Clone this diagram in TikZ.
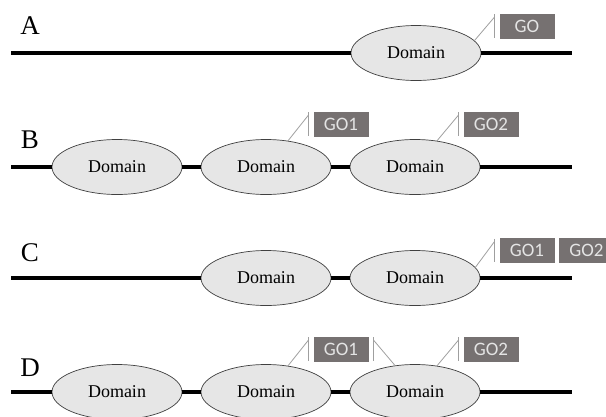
\documentclass[tikz,border=0pt]{standalone}
\usepackage{fontspec}
\setmainfont{Liberation Serif}
\newfontfamily\gofont{Carlito}
\usetikzlibrary{shapes.geometric}
\definecolor{goGray}{HTML}{767171}
\definecolor{goText}{HTML}{E4E4E4}
\definecolor{domFill}{HTML}{E6E6E6}

\tikzstyle{domainbox}=[ellipse, draw=black!75, line width=0.7pt, fill=domFill, minimum width=130pt, minimum height=55pt, inner sep=0pt, font=\fontsize{18}{18}\selectfont]
\tikzstyle{gobox}=[rectangle, fill=goGray, text=goText, minimum width=55pt, minimum height=25pt, inner sep=0pt, font=\gofont\fontsize{19}{19}\selectfont]
\tikzstyle{rowlabel}=[font=\fontsize{27}{27}\selectfont, inner sep=0pt]
\tikzstyle{chainline}=[line width=4.5pt]
\tikzstyle{leaderline}=[draw=gray!75, line width=0.8pt]

\begin{document}
\begin{tikzpicture}[x=1pt, y=-1pt]
    \useasboundingbox (0,0) rectangle (606,416);
    % row A
    \node[rowlabel] (la) at (30,26) {A};
    \node[domainbox] (a1) at (416,53) {Domain};
    \coordinate (as) at (11,53);
    \coordinate (ae) at (572,53);
    \node[gobox] (ga) at (527,26) {GO};
    % row B
    \node[rowlabel] (lb) at (30,140) {B};
    \node[domainbox] (b1) at (117,167) {Domain};
    \node[domainbox] (b2) at (266,167) {Domain};
    \node[domainbox] (b3) at (415,167) {Domain};
    \coordinate (bs) at (11,167);
    \coordinate (be) at (572,167);
    \node[gobox] (gb1) at (341,124) {GO1};
    \node[gobox] (gb2) at (491,124) {GO2};
    % row C
    \node[rowlabel] (lc) at (30,253) {C};
    \node[domainbox] (c1) at (266,278) {Domain};
    \node[domainbox] (c2) at (415,278) {Domain};
    \coordinate (cs) at (11,278);
    \coordinate (ce) at (572,278);
    \node[gobox] (gc1) at (527,250.5) {GO1};
    \node[gobox] (gc2) at (586.5,250.5) {GO2};
    % row D
    \node[rowlabel] (ld) at (30,368) {D};
    \node[domainbox] (d1) at (117,392) {Domain};
    \node[domainbox] (d2) at (266,392) {Domain};
    \node[domainbox] (d3) at (415,392) {Domain};
    \coordinate (ds) at (11,392);
    \coordinate (de) at (572,392);
    \node[gobox] (gd1) at (341,349) {GO1};
    \node[gobox] (gd2) at (491,349) {GO2};

    % backbones
    \path[draw,chainline]
    (as) edge (a1) (a1) edge (ae)
    (bs) edge (b1) (b1) edge (b2) (b2) edge (b3) (b3) edge (be)
    (cs) edge (c1) (c1) edge (c2) (c2) edge (ce)
    (ds) edge (d1) (d1) edge (d2) (d2) edge (d3) (d3) edge (de)
	;

    % callout bars
    \path[leaderline]
    ([xshift=-5pt,yshift=-1pt]ga.north west) edge ([xshift=-5pt,yshift=1pt]ga.south west)
    ([xshift=-5pt,yshift=-1pt]gb1.north west) edge ([xshift=-5pt,yshift=1pt]gb1.south west)
    ([xshift=-5pt,yshift=-1pt]gb2.north west) edge ([xshift=-5pt,yshift=1pt]gb2.south west)
    ([xshift=-5pt,yshift=-1pt]gc1.north west) edge ([xshift=-5pt,yshift=1pt]gc1.south west)
    ([xshift=-5pt,yshift=-1pt]gd1.north west) edge ([xshift=-5pt,yshift=1pt]gd1.south west)
    ([xshift=5pt,yshift=-1pt]gd1.north east) edge ([xshift=5pt,yshift=1pt]gd1.south east)
    ([xshift=-5pt,yshift=-1pt]gd2.north west) edge ([xshift=-5pt,yshift=1pt]gd2.south west)
	;

    % callout leaders
    \path[leaderline]
    (a1.12) edge ([xshift=-5pt,yshift=-4pt]ga.north west)
    (b2.50) edge ([xshift=-5pt,yshift=-4pt]gb1.north west)
    (b3.50) edge ([xshift=-5pt,yshift=-4pt]gb2.north west)
    (c2.10) edge ([xshift=-5pt,yshift=-4pt]gc1.north west)
    (d2.50) edge ([xshift=-5pt,yshift=-4pt]gd1.north west)
    (d3.127) edge ([xshift=5pt,yshift=-4pt]gd1.north east)
    (d3.50) edge ([xshift=-5pt,yshift=-4pt]gd2.north west)
	;
  \end{tikzpicture}
\end{document}
